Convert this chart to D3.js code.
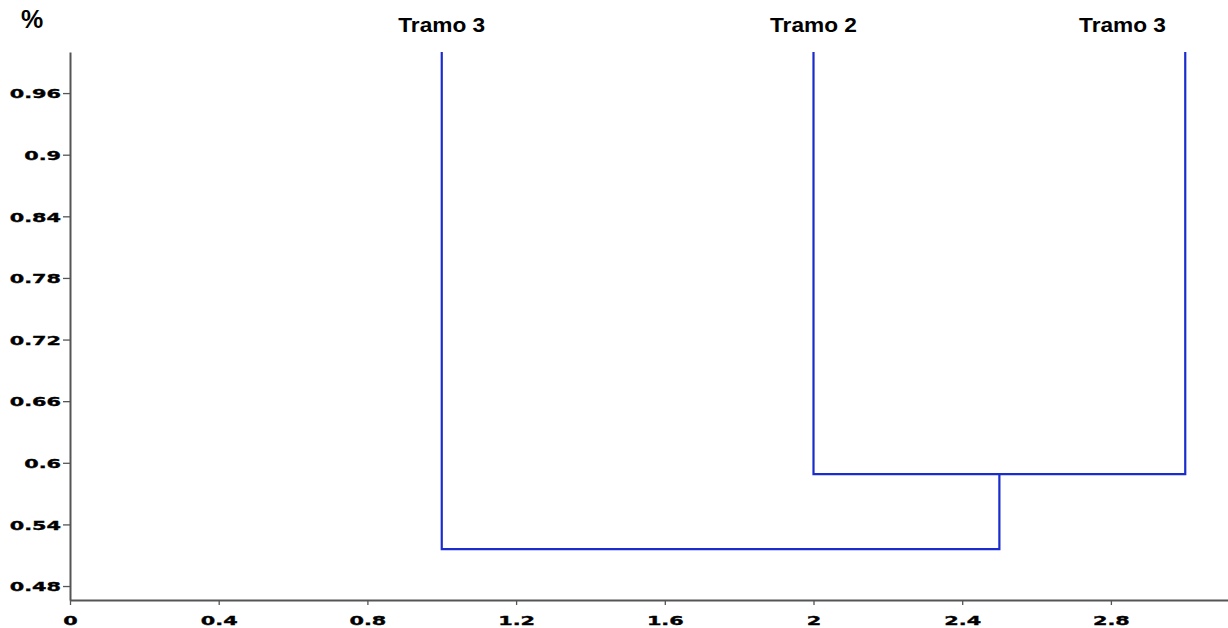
<!DOCTYPE html>
<html>
<head>
<meta charset="utf-8">
<script src="https://cdn.jsdelivr.net/npm/d3@7"></script>
<style>
  html, body { margin: 0; padding: 0; background: #fff; }
  svg { display: block; }
</style>
</head>
<body>
<svg id="chart" width="1228" height="628"></svg>
<script>
// ---- data ----
const leafLabels = ["Tramo 3", "Tramo 2", "Tramo 3"];
const leafPositions = [1, 2, 3];
const leafHeight = 1.0;
// merges: [left node, right node, height]; nodes 0..2 are leaves, 3.. are merges
const mergeLeft = [1, 0];
const mergeRight = [2, 3];
const mergeHeights = [0.589, 0.516];
const xTicks = [0, 0.4, 0.8, 1.2, 1.6, 2, 2.4, 2.8];
const xTickLabels = ["0", "0.4", "0.8", "1.2", "1.6", "2", "2.4", "2.8"];
const yTicks = [0.48, 0.54, 0.6, 0.66, 0.72, 0.78, 0.84, 0.9, 0.96];
const yTickLabels = ["0.48", "0.54", "0.6", "0.66", "0.72", "0.78", "0.84", "0.9", "0.96"];
const yAxisTitle = "%";

(function () {
// ---- layout ----
const W = 1228, H = 628;
const mLeft = 70, mRight = 1228, mTop = 52, mBottom = 600;
const x = d3.scaleLinear().domain([0, 3.115]).range([mLeft, mRight]);
const y = d3.scaleLinear().domain([0.4664, 1.0]).range([mBottom, mTop]);

const svg = d3.select("#chart");
const axisColor = "#555";
const lineColor = "#1a2ccc";

// nodes
const nodes = leafPositions.map((p, i) => ({ pos: p, h: leafHeight, label: leafLabels[i] }));
mergeHeights.forEach((h, i) => {
  const a = nodes[mergeLeft[i]], b = nodes[mergeRight[i]];
  nodes.push({ pos: (a.pos + b.pos) / 2, h: h, a: a, b: b });
});

// links
const g = svg.append("g");
nodes.filter(n => n.a).forEach(n => {
  const path = d3.path();
  path.moveTo(x(n.a.pos), y(n.a.h));
  path.lineTo(x(n.a.pos), y(n.h));
  path.lineTo(x(n.b.pos), y(n.h));
  path.lineTo(x(n.b.pos), y(n.b.h));
  g.append("path")
    .attr("d", path.toString())
    .attr("fill", "none")
    .attr("stroke", lineColor)
    .attr("stroke-width", 2.2);
});

const tickFont = sel => sel
  .attr("fill", "#000")
  .attr("stroke", "#000")
  .attr("stroke-width", 0.35)
  .style("font-family", "'DejaVu Sans', sans-serif")
  .style("font-weight", "bold")
  .style("font-size", "13px");

// axes
const yAxis = d3.axisLeft(y).tickValues(yTicks)
  .tickFormat((d, i) => yTickLabels[i]).tickSize(7).tickSizeOuter(0).tickPadding(0);
const yg = svg.append("g").attr("transform", `translate(${mLeft},0)`).call(yAxis);
yg.select(".domain").attr("stroke", axisColor).attr("stroke-width", 2);
yg.selectAll(".tick line").attr("stroke", axisColor).attr("stroke-width", 1.3);
yg.selectAll(".tick text")
  .attr("x", null).attr("dy", null)
  .attr("transform", "translate(-9,4.7) scale(1.6,1)")
  .call(tickFont);

const xAxis = d3.axisBottom(x).tickValues(xTicks)
  .tickFormat((d, i) => xTickLabels[i]).tickSize(5).tickSizeOuter(0);
const xg = svg.append("g").attr("transform", `translate(0,${mBottom})`).call(xAxis);
xg.select(".domain").attr("stroke", axisColor).attr("stroke-width", 2);
xg.selectAll(".tick line").attr("stroke", axisColor).attr("stroke-width", 1.3);
xg.selectAll(".tick text")
  .attr("y", null).attr("dy", null)
  .attr("transform", "translate(0,24.5) scale(1.6,1)")
  .call(tickFont);

// y-axis title
svg.append("text")
  .attr("x", 21).attr("y", 28)
  .attr("fill", "#000")
  .style("font-family", "'Liberation Sans', Arial, sans-serif")
  .style("font-weight", "bold")
  .style("font-size", "25px")
  .text(yAxisTitle);

// leaf labels
nodes.filter(n => n.label).forEach(n => {
  const t = svg.append("text")
    .attr("text-anchor", "middle")
    .attr("fill", "#000")
    .style("font-family", "'Liberation Sans', Arial, sans-serif")
    .style("font-weight", "bold")
    .style("font-size", "21px")
    .text(n.label);
  const half = t.node().getComputedTextLength() * 1.08 / 2;
  const cx = Math.min(x(n.pos), W - 62 - half);
  t.attr("transform", `translate(${cx},32) scale(1.08,1)`);
});
})();
</script>
</body>
</html>
